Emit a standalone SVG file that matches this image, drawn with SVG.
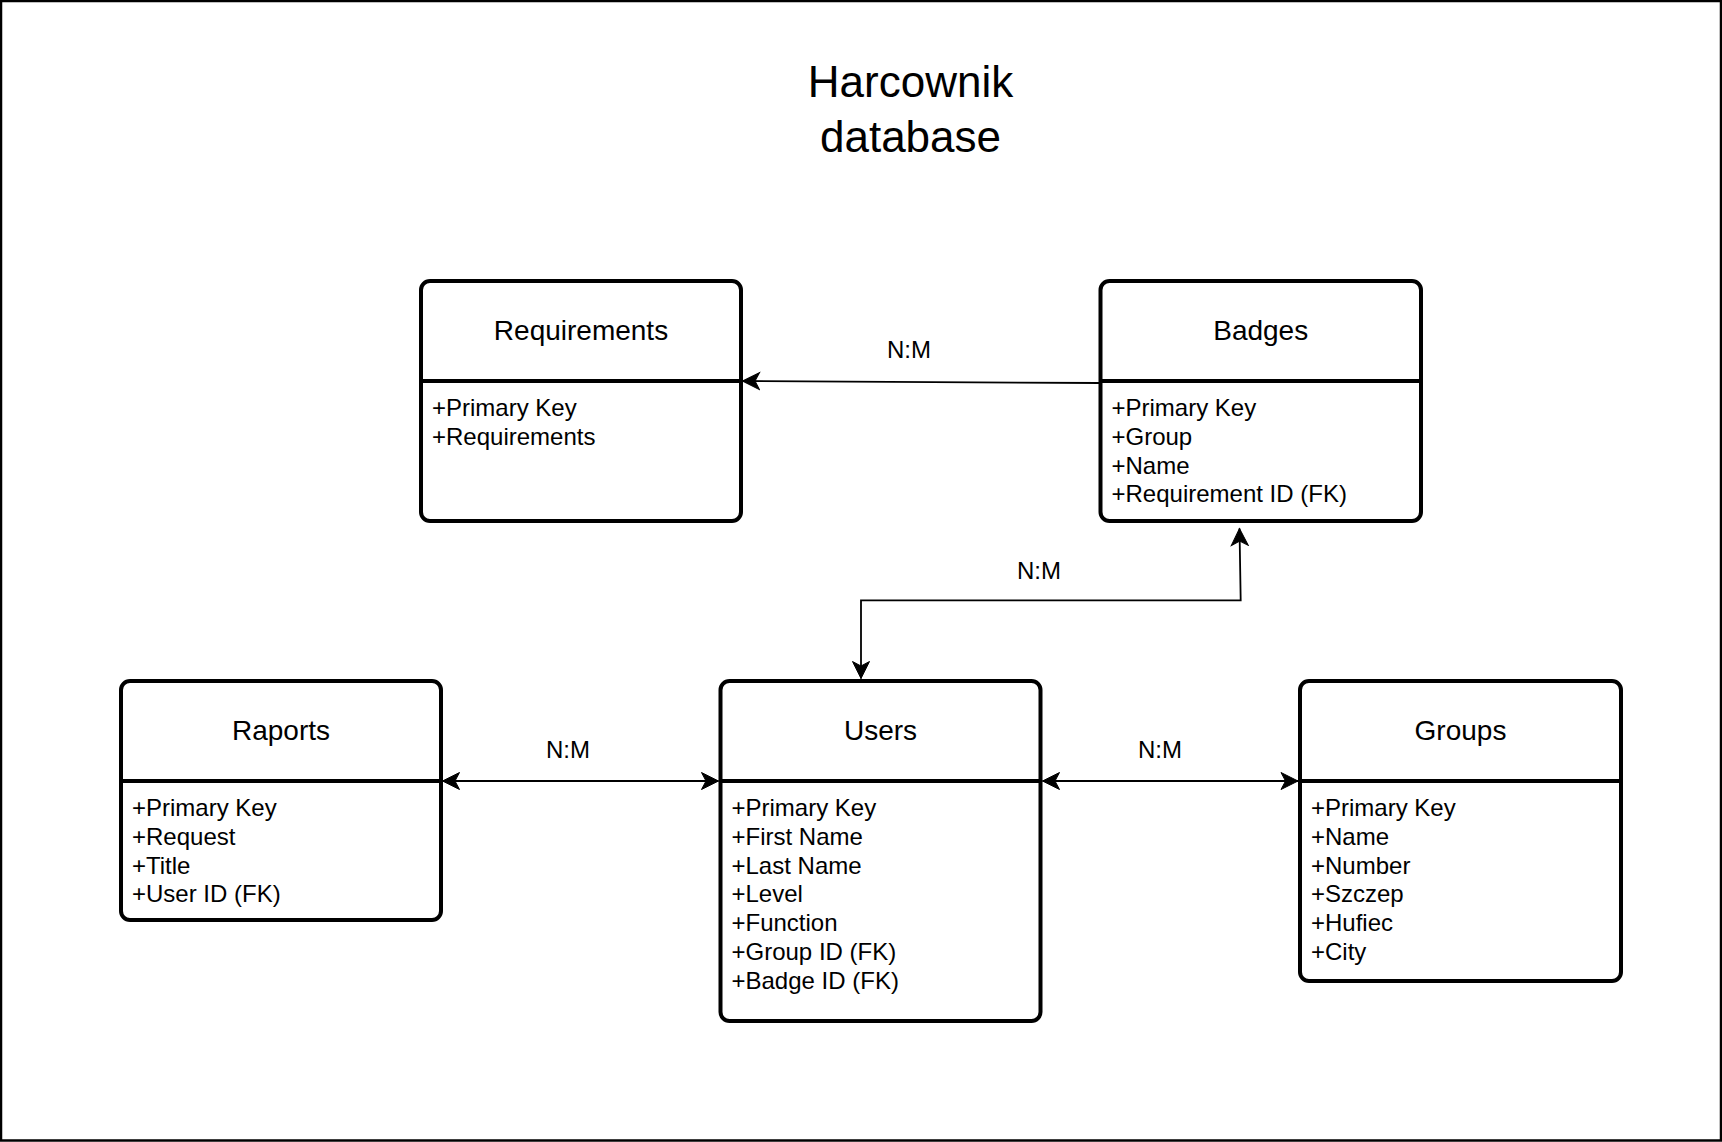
<svg xmlns="http://www.w3.org/2000/svg" width="1722" height="1142" viewBox="0 0 1722 1142">
  <style>
    text { font-family: "Liberation Sans", Arial, Helvetica, sans-serif; fill: #000; }
    .box { fill: #fff; stroke: #000; stroke-width: 4; }
    .div { stroke: #000; stroke-width: 4; }
    .hdr { font-size: 28px; text-anchor: middle; }
    .attr { font-size: 24px; }
    .lbl { font-size: 24px; text-anchor: middle; }
    .title { font-size: 44px; text-anchor: middle; }
    .edge { fill: none; stroke: #000; stroke-width: 1.8; }
  </style>
  <defs>
    <marker id="arr" viewBox="-18 -10 20 20" markerWidth="20" markerHeight="20" refX="0" refY="0" orient="auto-start-reverse" markerUnits="userSpaceOnUse">
      <path d="M0,0 L-17,-8.5 L-12.5,0 L-17,8.5 Z" fill="#000" stroke="#000" stroke-width="1" stroke-linejoin="miter"/>
    </marker>
  </defs>
  <rect x="1" y="1" width="1720" height="1139.5" fill="#fff" stroke="#000" stroke-width="2.5"/>

  <g id="title">
    <text class="title" x="910.5" y="97">Harcownik</text>
    <text class="title" x="910.5" y="152">database</text>
  </g>

  <g id="connectors">
    <path class="edge" d="M1100,383 L742.5,381" marker-end="url(#arr)"/>
    <path class="edge" d="M1239.5,528.5 L1240.7,600.3 L861,600.3 L861,678.5" marker-start="url(#arr)" marker-end="url(#arr)"/>
    <path class="edge" d="M442.5,781 L718.5,781" marker-start="url(#arr)" marker-end="url(#arr)"/>
    <path class="edge" d="M1042.5,781 L1298,781" marker-start="url(#arr)" marker-end="url(#arr)"/>
    <text class="lbl" x="909" y="357.5">N:M</text>
    <text class="lbl" x="1039" y="578.5">N:M</text>
    <text class="lbl" x="568" y="758">N:M</text>
    <text class="lbl" x="1160" y="758">N:M</text>
  </g>

  <g id="requirements">
    <rect class="box" x="421" y="281" width="320" height="240" rx="9"/>
    <line class="div" x1="421" y1="381" x2="741" y2="381"/>
    <text class="hdr" x="581" y="339.5">Requirements</text>
    <text class="attr" x="432" y="416">+Primary Key</text>
    <text class="attr" x="432" y="444.8">+Requirements</text>
  </g>

  <g id="badges">
    <rect class="box" x="1100.5" y="281" width="320.5" height="240" rx="9"/>
    <line class="div" x1="1100.5" y1="381" x2="1421" y2="381"/>
    <text class="hdr" x="1260.7" y="339.5">Badges</text>
    <text class="attr" x="1111.5" y="416">+Primary Key</text>
    <text class="attr" x="1111.5" y="444.8">+Group</text>
    <text class="attr" x="1111.5" y="473.6">+Name</text>
    <text class="attr" x="1111.5" y="502.4">+Requirement ID (FK)</text>
  </g>

  <g id="raports">
    <rect class="box" x="121" y="681" width="320" height="239" rx="9"/>
    <line class="div" x1="121" y1="781" x2="441" y2="781"/>
    <text class="hdr" x="281" y="739.5">Raports</text>
    <text class="attr" x="132" y="816">+Primary Key</text>
    <text class="attr" x="132" y="844.8">+Request</text>
    <text class="attr" x="132" y="873.6">+Title</text>
    <text class="attr" x="132" y="902.4">+User ID (FK)</text>
  </g>

  <g id="users">
    <rect class="box" x="720.5" y="681" width="320" height="340" rx="9"/>
    <line class="div" x1="720.5" y1="781" x2="1040.5" y2="781"/>
    <text class="hdr" x="880.5" y="739.5">Users</text>
    <text class="attr" x="731.5" y="816">+Primary Key</text>
    <text class="attr" x="731.5" y="844.8">+First Name</text>
    <text class="attr" x="731.5" y="873.6">+Last Name</text>
    <text class="attr" x="731.5" y="902.4">+Level</text>
    <text class="attr" x="731.5" y="931.2">+Function</text>
    <text class="attr" x="731.5" y="960">+Group ID (FK)</text>
    <text class="attr" x="731.5" y="988.8">+Badge ID (FK)</text>
  </g>

  <g id="groups">
    <rect class="box" x="1300" y="681" width="321" height="300" rx="9"/>
    <line class="div" x1="1300" y1="781" x2="1621" y2="781"/>
    <text class="hdr" x="1460.5" y="739.5">Groups</text>
    <text class="attr" x="1311" y="816">+Primary Key</text>
    <text class="attr" x="1311" y="844.8">+Name</text>
    <text class="attr" x="1311" y="873.6">+Number</text>
    <text class="attr" x="1311" y="902.4">+Szczep</text>
    <text class="attr" x="1311" y="931.2">+Hufiec</text>
    <text class="attr" x="1311" y="960">+City</text>
  </g>
</svg>
